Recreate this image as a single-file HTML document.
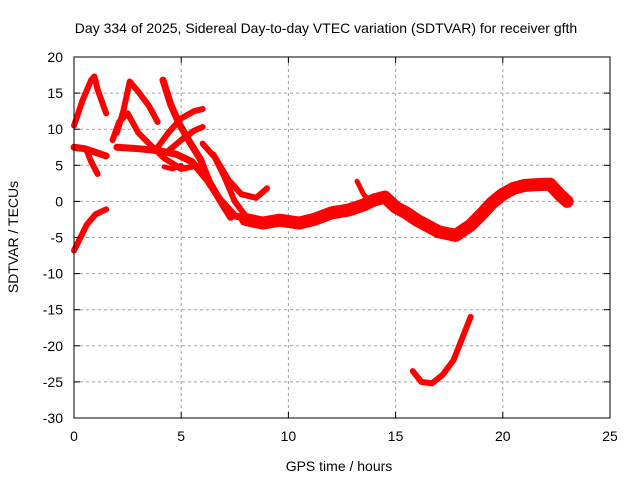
<!DOCTYPE html>
<html><head><meta charset="utf-8"><style>
body{margin:0;background:#fff;font-family:"Liberation Sans",sans-serif}
svg text{font-family:"Liberation Sans",sans-serif;font-size:14px;fill:#000}
</style></head><body>
<svg id="c" width="640" height="480">
<text x="326" y="33" text-anchor="middle">Day 334 of 2025, Sidereal Day-to-day VTEC variation (SDTVAR) for receiver gfth</text>
<text x="339" y="471" text-anchor="middle">GPS time / hours</text>
<text transform="translate(18,237) rotate(-90)" text-anchor="middle">SDTVAR / TECUs</text>
<g id="grid"></g><g id="marks"></g><g id="axes"></g>
</svg>
<script>
const xTicks=[0,5,10,15,20,25];
const yTicks=[20,15,10,5,0,-5,-10,-15,-20,-25,-30];
const tA_h=[0,0.4,0.8,0.95,1.1,1.4,1.5];
const tA_v=[10.5,14,16.8,17.3,15.5,13,12.2];
const tB_h=[0,0.5,1,1.5];
const tB_v=[7.5,7.3,6.8,6.3];
const tB2_h=[0.6,0.8,1.1];
const tB2_v=[7,5.5,3.8];
const tC_h=[0,0.3,0.6,1,1.5];
const tC_v=[-6.8,-5,-3.2,-1.8,-1.1];
const tD_h=[2,2.3,2.6,3,3.5,3.9];
const tD_v=[9.5,12.5,16.6,15.2,13.2,11];
const tE_h=[4.15,4.5,4.9,5.4,5.9,6.3,6.8,7.3];
const tE_v=[16.8,13.5,10.8,8.2,5.8,2.8,0.2,-2.2];
const tF_h=[1.8,2.1,2.5,3,3.5,4.2,5,5.5];
const tF_v=[8.5,11,12.2,9.5,8,6,4.5,4.8];
const tG_h=[3.9,4.4,5,5.6,6];
const tG_v=[7.5,9.5,11.5,12.5,12.8];
const tH_h=[4.2,5,5.6,6];
const tH_v=[6.5,8.5,9.8,10.3];
const tI_h=[2,3,4,4.8,5.5,6.2,6.8,7.5,8.2];
const tI_v=[7.5,7.3,7,6.5,5.5,3,0.3,-2,-2.5];
const tL_h=[4.2,4.6,5];
const tL_v=[4.8,4.5,5];
const tJ_h=[6,6.6,7.2,7.8,8.5,9];
const tJ_v=[8,6,3,1,0.5,1.8];
const tK_h=[6.5,7,7.5,8,8.5,9.2];
const tK_v=[6.5,3.5,0,-2,-3,-2.5];
const tM_h=[8,8.8,9.6,10.5,11.2,12,12.8,13.5,14,14.5,15,15.5,16,17,17.8,18.5,19,19.5,20,20.5,21,21.5,22.2,22.7,23];
const tM_v=[-2.5,-3,-2.6,-3,-2.5,-1.6,-1.2,-0.5,0.2,0.6,-0.8,-1.6,-2.6,-4.2,-4.7,-3.3,-1.8,-0.2,1,1.8,2.2,2.3,2.4,0.8,0];
const tN_h=[13.2,13.5,13.8];
const tN_v=[2.8,1,0];
const tO_h=[15.8,16.2,16.7,17.2,17.7,18.1,18.5];
const tO_v=[-23.5,-25,-25.2,-24,-22,-19,-16];
const traces=[[tA_h,tA_v,6],[tB_h,tB_v,7],[tB2_h,tB2_v,6],[tC_h,tC_v,6],[tD_h,tD_v,6],[tE_h,tE_v,7],[tF_h,tF_v,6],[tG_h,tG_v,6],[tH_h,tH_v,6],[tI_h,tI_v,7],[tL_h,tL_v,5],[tJ_h,tJ_v,6],[tK_h,tK_v,6],[tM_h,tM_v,13],[tN_h,tN_v,5],[tO_h,tO_v,6]];
const X0=74,X1=610,Y0=418,Y1=57;
const sx=v=>X0+(v-0)/25*(X1-X0);
const sy=v=>Y0-(v+30)/50*(Y0-Y1);
const NS="http://www.w3.org/2000/svg";
function mk(t,a,p){const e=document.createElementNS(NS,t);for(const k in a)e.setAttribute(k,a[k]);p.appendChild(e);return e;}
const grid=document.getElementById('grid'),axes=document.getElementById('axes'),marks=document.getElementById('marks');
xTicks.forEach(t=>{const x=sx(t);
 if(t>0&&t<25){const g=mk('line',{x1:x,x2:x,y1:Y1,y2:Y0,stroke:'#a0a0a0','stroke-dasharray':'3,3'},grid);
 
 }
 mk('line',{x1:x,x2:x,y1:Y0,y2:Y0-6,stroke:'#000'},axes);
 mk('line',{x1:x,x2:x,y1:Y1,y2:Y1+6,stroke:'#000'},axes);
 const l=mk('text',{x:x,y:Y0+23,'text-anchor':'middle'},axes);l.textContent=t;
 
 });
yTicks.forEach(t=>{const y=sy(t);
 if(t>-30&&t<20){const g=mk('line',{x1:X0,x2:X1,y1:y,y2:y,stroke:'#a0a0a0','stroke-dasharray':'3,3'},grid);
 
 }
 mk('line',{x1:X0,x2:X0+6,y1:y,y2:y,stroke:'#000'},axes);
 mk('line',{x1:X1,x2:X1-6,y1:y,y2:y,stroke:'#000'},axes);
 const l=mk('text',{x:X0-11,y:y+5,'text-anchor':'end'},axes);l.textContent=t;
 
 });
const fr=mk('rect',{x:X0,y:Y1,width:X1-X0,height:Y0-Y1,fill:'none',stroke:'#000'},axes);


traces.forEach(([h,v,w])=>{
 const pts=h.map((t,i)=>sx(t)+','+sy(v[i])).join(' ');
 const p=mk('polyline',{points:pts,fill:'none',stroke:'#ff0000','stroke-width':w,'stroke-linejoin':'round','stroke-linecap':'round'},marks);
 
 
});
</script>
</body></html>
